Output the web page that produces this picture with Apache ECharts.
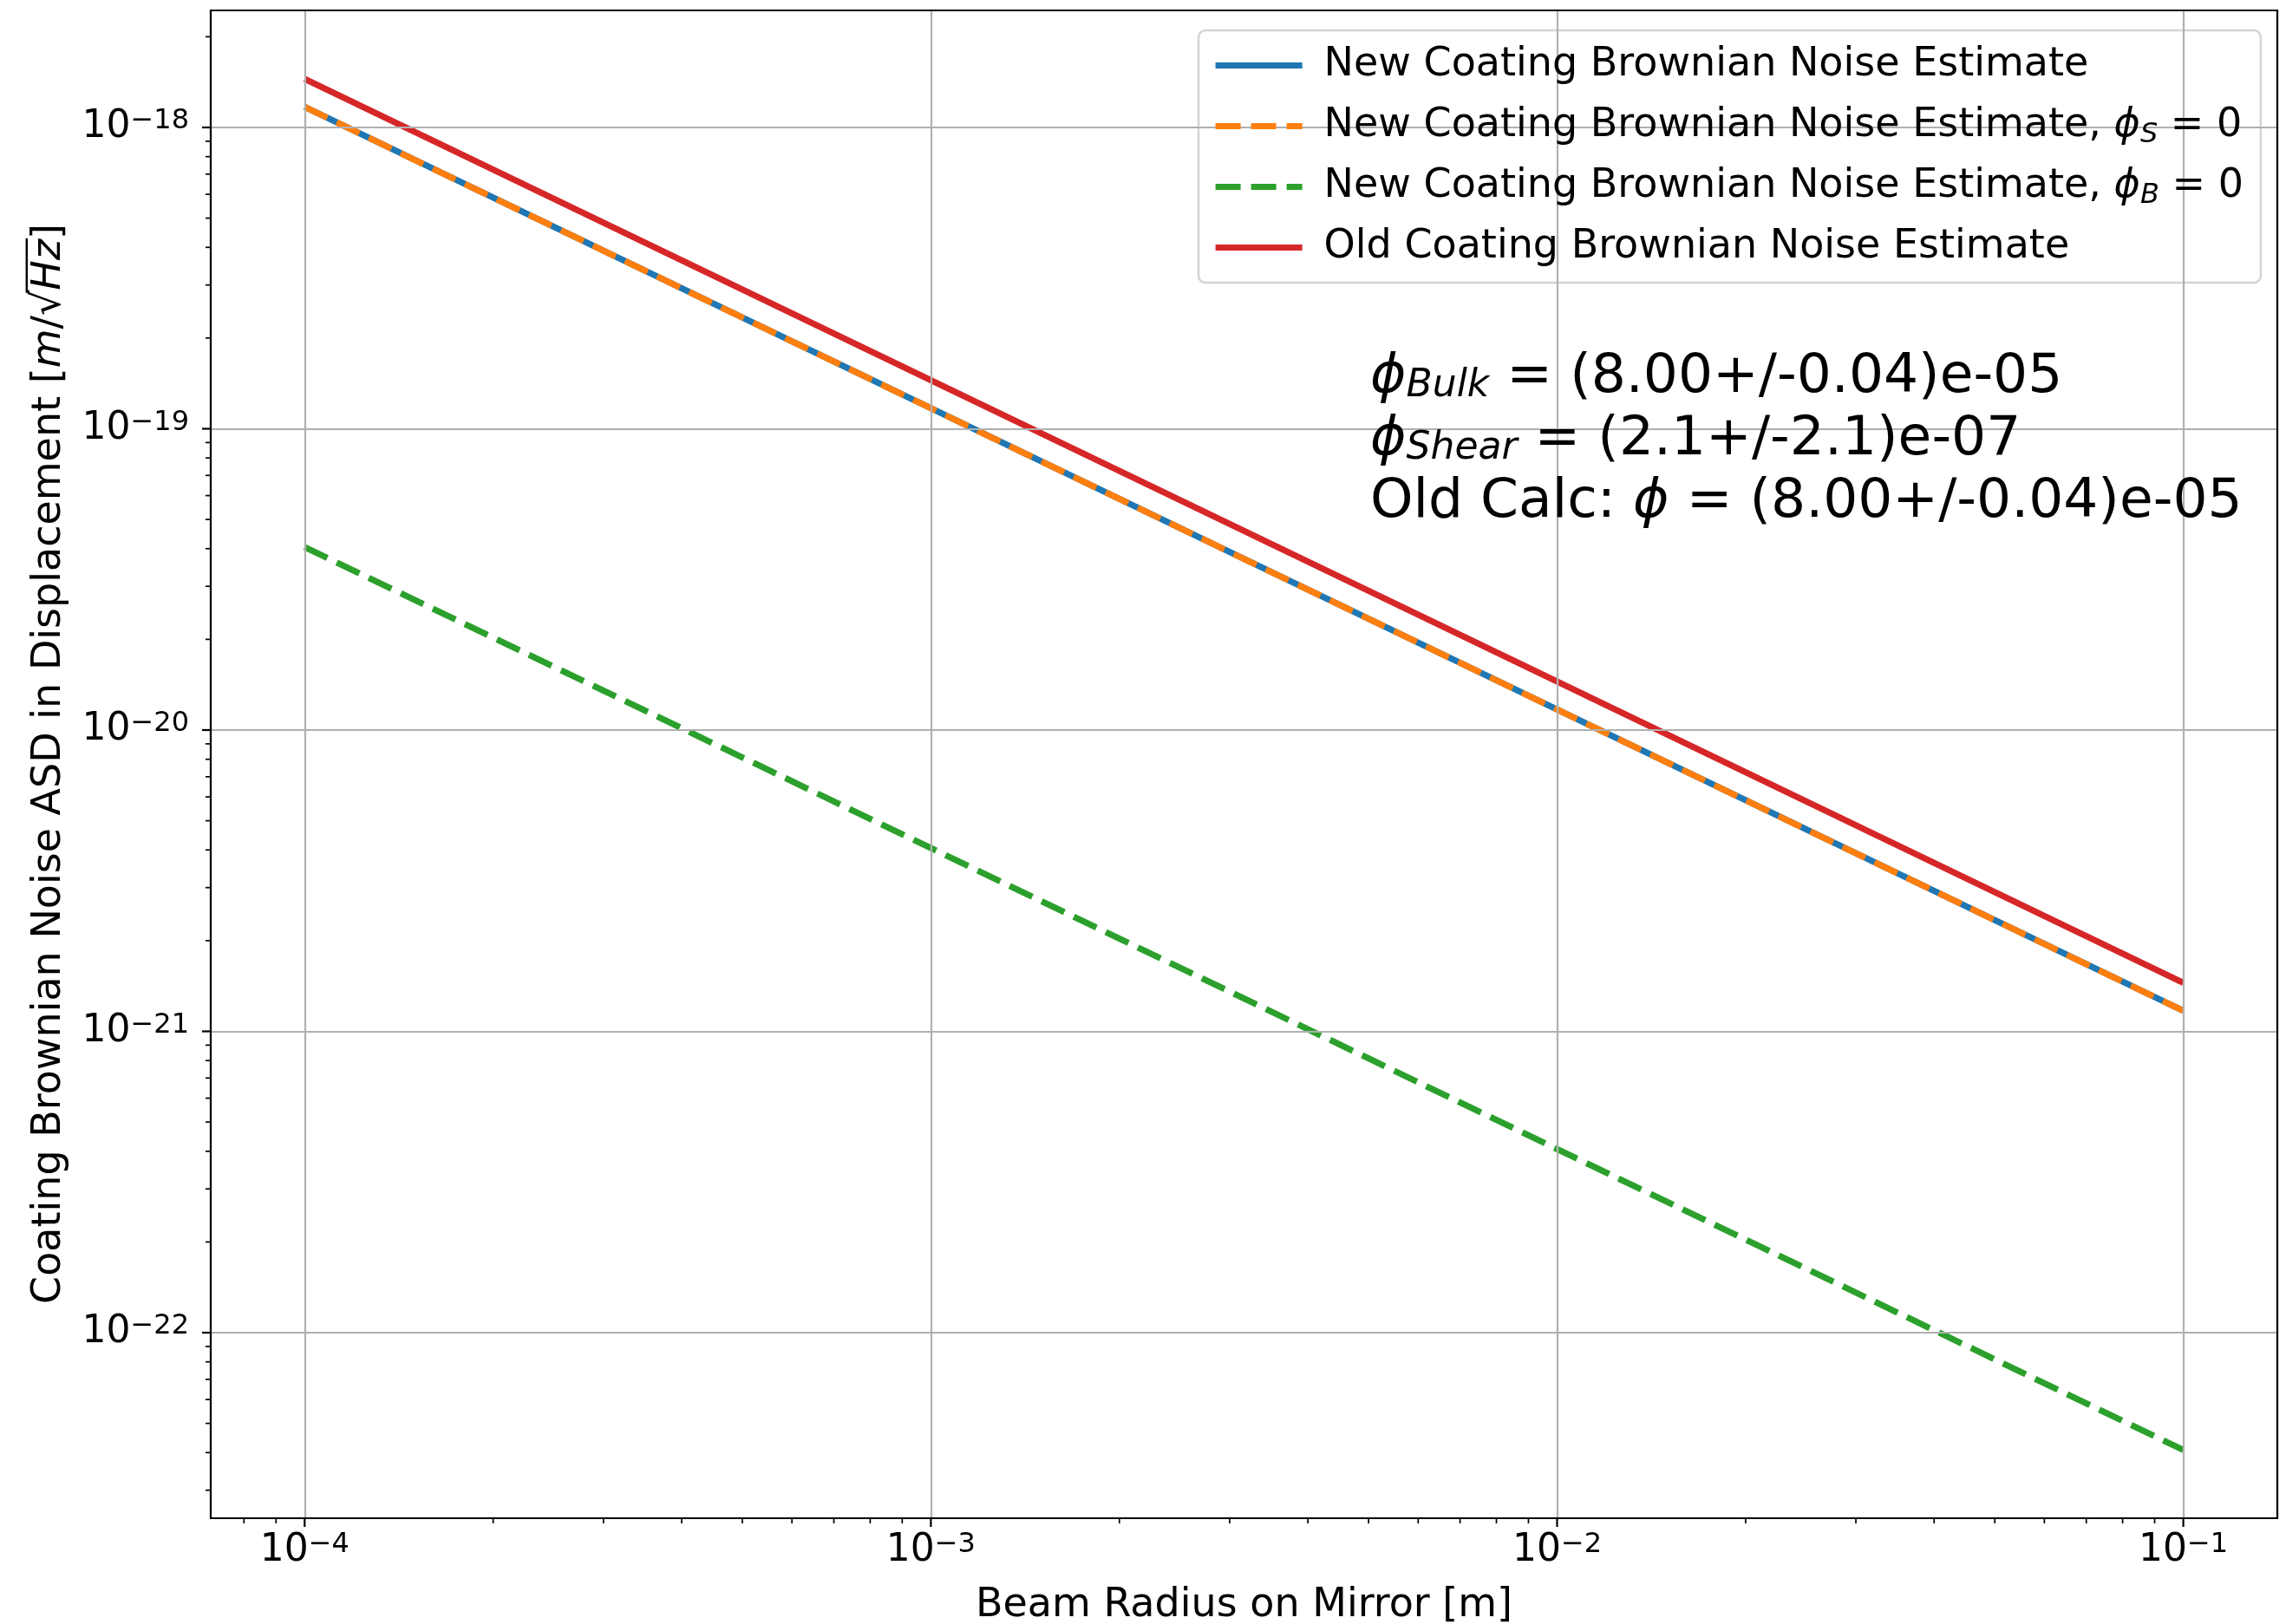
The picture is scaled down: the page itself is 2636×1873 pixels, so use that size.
<!DOCTYPE html>
<html>
<head>
<meta charset="utf-8">
<script src="https://cdn.jsdelivr.net/npm/echarts@6/dist/echarts.min.js"></script>
<style>
html,body{margin:0;padding:0;background:#fff;}
#chart{width:2636px;height:1873px;}
</style>
</head>
<body>
<div id="chart"></div>
<script>
// ---- data ----
const beamRadius = [1e-4, 1e-3, 1e-2, 1e-1];
const newEstimate = [1.17e-18, 1.17e-19, 1.17e-20, 1.17e-21];
const newEstimatePhiS0 = [1.17e-18, 1.17e-19, 1.17e-20, 1.17e-21];
const newEstimatePhiB0 = [4.05e-20, 4.06e-21, 4.07e-22, 4.08e-23];
const oldEstimate = [1.45e-18, 1.45e-19, 1.45e-20, 1.45e-21];

const seriesNames = [
  'New Coating Brownian Noise Estimate',
  'New Coating Brownian Noise Estimate, phiS = 0',
  'New Coating Brownian Noise Estimate, phiB = 0',
  'Old Coating Brownian Noise Estimate'
];
const legendLabels = [
  'New Coating Brownian Noise Estimate',
  'New Coating Brownian Noise Estimate, {i|ϕ}{sub|S}{n| = 0}',
  'New Coating Brownian Noise Estimate, {i|ϕ}{sub|B}{n| = 0}',
  'Old Coating Brownian Noise Estimate'
];
const colors = ['#1f77b4', '#ff7f0e', '#2ca02c', '#d62728'];

const xMajorTicks = [1e-4, 1e-3, 1e-2, 1e-1];
const xMinorTicks = [8e-5, 9e-5,
  2e-4, 3e-4, 4e-4, 5e-4, 6e-4, 7e-4, 8e-4, 9e-4,
  2e-3, 3e-3, 4e-3, 5e-3, 6e-3, 7e-3, 8e-3, 9e-3,
  2e-2, 3e-2, 4e-2, 5e-2, 6e-2, 7e-2, 8e-2, 9e-2];
const yMajorTicks = [1e-22, 1e-21, 1e-20, 1e-19, 1e-18];
const yMinorTicks = [3e-23, 4e-23, 5e-23, 6e-23, 7e-23, 8e-23, 9e-23,
  2e-22, 3e-22, 4e-22, 5e-22, 6e-22, 7e-22, 8e-22, 9e-22,
  2e-21, 3e-21, 4e-21, 5e-21, 6e-21, 7e-21, 8e-21, 9e-21,
  2e-20, 3e-20, 4e-20, 5e-20, 6e-20, 7e-20, 8e-20, 9e-20,
  2e-19, 3e-19, 4e-19, 5e-19, 6e-19, 7e-19, 8e-19, 9e-19,
  2e-18];

const xMin = 7.08e-5, xMax = 0.1413;
const yMin = 2.422e-23, yMax = 2.446e-18;

const xAxisTitle = 'Beam Radius on Mirror [m]';
// y title pieces: [text, italic?]
const yTitleParts = [
  ['Coating Brownian Noise ASD in Displacement [', false],
  ['m', true],
  ['/\u221A', false],
  ['Hz', true],
  [']', false]
];

const annotationLines = [
  '{i|ϕ}{sub|Bulk}{n| = (8.00+/-0.04)e-05}',
  '{i|ϕ}{sub|Shear}{n| = (2.1+/-2.1)e-07}',
  '{n|Old Calc: }{i|ϕ}{n| = (8.00+/-0.04)e-05}'
];

const FONT = '"DejaVu Sans", sans-serif';

function powLabel(v) {
  const e = Math.log10(v);
  const r = Math.round(e);
  if (Math.abs(e - r) > 0.01) return '';
  return '{b|10}{s|' + (r < 0 ? '\u2212' + (-r) : r) + '}';
}
const powRich = {
  b: {fontSize: 44, fontFamily: FONT, color: '#000', lineHeight: 46},
  s: {fontSize: 32, fontFamily: FONT, color: '#000', verticalAlign: 'top', lineHeight: 26}
};

function tickSeries(vals, axis, len, width) {
  return {
    type: 'custom',
    coordinateSystem: 'cartesian2d',
    silent: true,
    z: 5,
    clip: false,
    data: vals.map(v => axis === 'x' ? [v, yMin] : [xMin, v]),
    renderItem: function (params, api) {
      const p = api.coord([api.value(0), api.value(1)]);
      const shape = axis === 'x'
        ? {x1: p[0], y1: p[1], x2: p[0], y2: p[1] + len}
        : {x1: p[0], y1: p[1], x2: p[0] - len, y2: p[1]};
      return {type: 'line', shape: shape, style: {stroke: '#000', lineWidth: width}};
    }
  };
}

const lineData = [newEstimate, newEstimatePhiS0, newEstimatePhiB0, oldEstimate];
const dash = [29, 12];
const lineTypes = ['solid', dash, dash, 'solid'];
const LW = 7.2;

const series = seriesNames.map((name, i) => ({
  name: name,
  type: 'line',
  symbol: 'none',
  showSymbol: false,
  animation: false,
  z: 3,
  data: beamRadius.map((x, j) => [x, lineData[i][j]]),
  lineStyle: {color: colors[i], width: LW, type: lineTypes[i], cap: 'butt'},
  itemStyle: {color: colors[i]}
}));
series.push(tickSeries(xMajorTicks, 'x', 10, 2.2));
series.push(tickSeries(xMinorTicks, 'x', 6, 1.7));
series.push(tickSeries(yMajorTicks, 'y', 10, 2.2));
series.push(tickSeries(yMinorTicks, 'y', 6, 1.7));

const legendMap = {};
seriesNames.forEach((n, i) => legendMap[n] = legendLabels[i]);

const borderAxisLine = {show: true, onZero: false, lineStyle: {color: '#000', width: 2.2}};

const graphics = annotationLines.map((t, k) => ({
  type: 'text',
  x: 1580, y: 436 + 72 * k,
  z: 10,
  style: {
    text: t,
    fill: '#000',
    font: '63px ' + FONT,
    verticalAlign: 'middle',
    rich: {
      n: {fontSize: 63, fontFamily: FONT, fill: '#000', color: '#000'},
      i: {fontSize: 63, fontFamily: FONT, fill: '#000', color: '#000', fontStyle: 'italic'},
      sub: {fontSize: 44, fontFamily: FONT, fill: '#000', color: '#000', fontStyle: 'italic', verticalAlign: 'bottom', lineHeight: 38}
    }
  }
}));

// rotated y-axis title with an overline over "Hz" (sqrt bar)
const YT_X = 57, YT_Y = 881, YT_FS = 46;
const yTitleRich = yTitleParts.map(p => '{' + (p[1] ? 'i' : 'n') + '|' + p[0] + '}').join('');
graphics.push({
  type: 'text',
  x: YT_X, y: YT_Y,
  rotation: Math.PI / 2,
  z: 10,
  style: {
    text: yTitleRich,
    fill: '#000',
    font: YT_FS + 'px ' + FONT,
    align: 'center',
    verticalAlign: 'middle',
    rich: {
      n: {fontSize: YT_FS, fontFamily: FONT, fill: '#000', color: '#000'},
      i: {fontSize: YT_FS, fontFamily: FONT, fill: '#000', color: '#000', fontStyle: 'italic'}
    }
  }
});
(function () {
  const ctx = document.createElement('canvas').getContext('2d');
  const widths = yTitleParts.map(p => {
    ctx.font = (p[1] ? 'italic ' : '') + YT_FS + 'px ' + FONT;
    return ctx.measureText(p[0]).width;
  });
  const W = widths.reduce((a, b) => a + b, 0);
  const start = -W / 2 + widths[0] + widths[1] + widths[2] - 3;
  const end = -W / 2 + widths[0] + widths[1] + widths[2] + widths[3] + 1;
  const ly = -0.57 * YT_FS;
  graphics.push({
    type: 'line', z: 10, silent: true,
    shape: {x1: YT_X + ly, y1: YT_Y - start, x2: YT_X + ly, y2: YT_Y - end},
    style: {stroke: '#000', lineWidth: 2.4}
  });
})();

const option = {
  animation: false,
  backgroundColor: '#fff',
  grid: {left: 243, top: 12, right: 10, bottom: 122, outerBoundsMode: 'none'},
  xAxis: [{
    type: 'log', logBase: 10, min: xMin, max: xMax, z: 4,
    name: xAxisTitle, nameLocation: 'middle', nameGap: 78,
    nameTextStyle: {fontSize: 46, fontFamily: FONT, color: '#000'},
    axisLine: borderAxisLine,
    axisTick: {show: false},
    axisLabel: {formatter: powLabel, rich: powRich, margin: 15, fontFamily: FONT},
    splitLine: {show: true, lineStyle: {color: '#b0b0b0', width: 2.2}},
    minorTick: {show: false}, minorSplitLine: {show: false}
  }, {
    type: 'log', logBase: 10, min: xMin, max: xMax, position: 'top', z: 4,
    axisLine: borderAxisLine, axisTick: {show: false}, axisLabel: {show: false}, splitLine: {show: false}
  }],
  yAxis: [{
    type: 'log', logBase: 10, min: yMin, max: yMax, z: 4,
    axisLine: borderAxisLine,
    axisTick: {show: false},
    axisLabel: {formatter: powLabel, rich: powRich, margin: 25, fontFamily: FONT},
    splitLine: {show: true, lineStyle: {color: '#b0b0b0', width: 2.2}},
    minorTick: {show: false}, minorSplitLine: {show: false}
  }, {
    type: 'log', logBase: 10, min: yMin, max: yMax, position: 'right', z: 4,
    axisLine: borderAxisLine, axisTick: {show: false}, axisLabel: {show: false}, splitLine: {show: false}
  }],
  legend: {
    data: seriesNames.map((n, i) => ({
      name: n,
      itemStyle: {opacity: 0},
      lineStyle: {color: colors[i], width: LW, type: lineTypes[i], cap: 'butt'}
    })),
    orient: 'vertical',
    left: 1382, top: 35,
    padding: [14, 20, 14, 16],
    itemWidth: 100, itemHeight: 20, itemGap: 17,
    backgroundColor: 'rgba(255,255,255,0.8)',
    borderColor: '#d4d4d4', borderWidth: 2.5, borderRadius: 8,
    formatter: name => legendMap[name],
    textStyle: {
      fontSize: 46, fontFamily: FONT, color: '#000', lineHeight: 53, padding: [0, 0, 0, 20],
      rich: {
        n: {fontSize: 46, fontFamily: FONT, color: '#000'},
        i: {fontSize: 46, fontFamily: FONT, color: '#000', fontStyle: 'italic'},
        sub: {fontSize: 32, fontFamily: FONT, color: '#000', fontStyle: 'italic', verticalAlign: 'bottom', lineHeight: 30}
      }
    }
  },
  graphic: graphics,
  series: series
};

const chart = echarts.init(document.getElementById('chart'), null, {renderer: 'canvas'});
chart.setOption(option);
</script>
</body>
</html>
